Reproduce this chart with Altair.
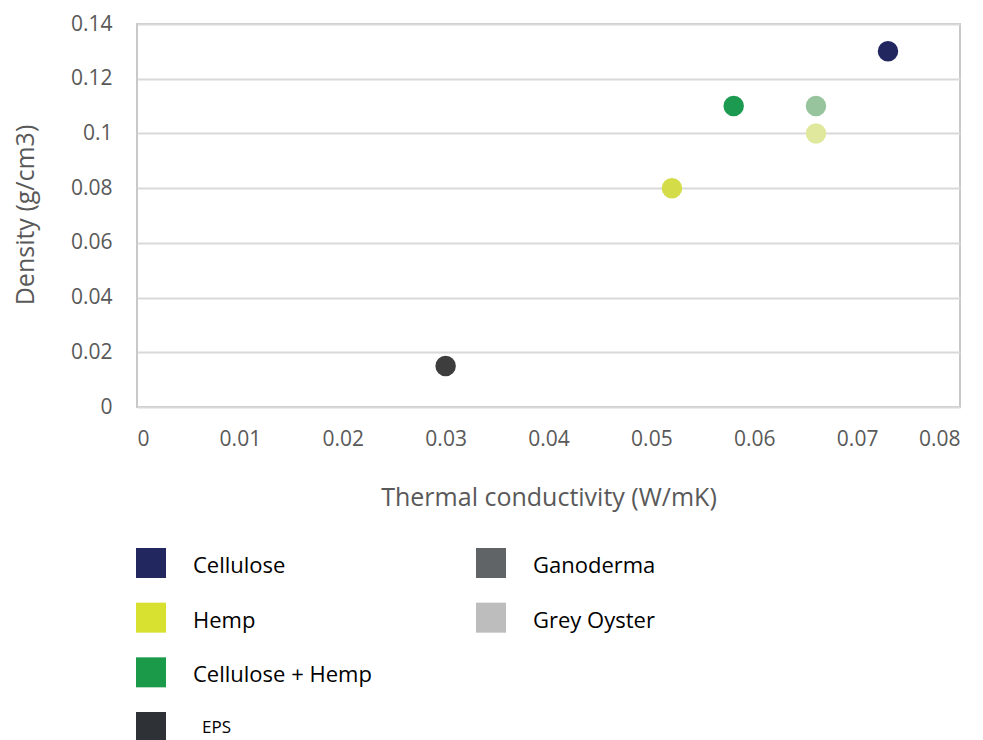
import altair as alt
import pandas as pd

# Scatter data
materials = ["Cellulose", "Hemp", "Cellulose + Hemp", "EPS", "Ganoderma", "Grey Oyster"]
conductivity = [0.073, 0.052, 0.058, 0.030, 0.066, 0.066]
density = [0.130, 0.080, 0.110, 0.015, 0.110, 0.100]
point_colors = ["#232760", "#d4dc47", "#1b9a50", "#3d3d3d", "#97c49c", "#e0e89e"]

# Legend data
legend_labels = ["Cellulose", "Hemp", "Cellulose + Hemp", "EPS", "Ganoderma", "Grey Oyster"]
legend_colors = ["#232760", "#d8e030", "#1b9a4a", "#2e3236", "#606467", "#bcbdbc"]
legend_rows_per_col = 4
small_label = "EPS"

x_ticks = [0, 0.01, 0.02, 0.03, 0.04, 0.05, 0.06, 0.07, 0.08]
y_ticks = [0, 0.02, 0.04, 0.06, 0.08, 0.10, 0.12, 0.14]

W, H = 823, 383

df = pd.DataFrame({"material": materials, "k": conductivity, "rho": density})

points = alt.Chart(df).mark_circle(size=420, opacity=1).encode(
    x=alt.X("k:Q",
            scale=alt.Scale(domain=[0, 0.08], nice=False),
            axis=alt.Axis(values=x_ticks, format="~g", grid=False, ticks=False, tickSize=0,
                          domain=False, labelPadding=21,
                          title="Thermal conductivity (W/mK)",
                          titleX=W / 2, titleY=90, titleBaseline="middle", titleAlign="center")),
    y=alt.Y("rho:Q",
            scale=alt.Scale(domain=[0, 0.14], nice=False),
            axis=alt.Axis(values=y_ticks, format="~g", grid=True, ticks=False, tickSize=0,
                          domain=False, labelPadding=25,
                          title="Density (g/cm3)",
                          titleX=-112, titleY=H / 2 - 1, titleAngle=-90,
                          titleBaseline="middle", titleAlign="center")),
    color=alt.Color("material:N", scale=alt.Scale(domain=materials, range=point_colors), legend=None),
)

leg_df = pd.DataFrame({
    "label": legend_labels,
    "color": legend_colors,
    "col": [i // legend_rows_per_col for i in range(len(legend_labels))],
    "row": [i % legend_rows_per_col for i in range(len(legend_labels))],
})

leg_base = alt.Chart(leg_df).encode(
    x=alt.X("col:Q", scale=alt.Scale(domain=[0, 1], range=[14, 354], nice=False, zero=False), axis=None),
    y=alt.Y("row:Q", scale=alt.Scale(domain=[0, 3], range=[539, 703], nice=False, zero=False), axis=None),
)
squares = leg_base.mark_square(size=900, opacity=1).encode(
    color=alt.Color("color:N", scale=None, legend=None)
)
texts = leg_base.transform_filter(
    alt.datum.label != small_label
).mark_text(align="left", baseline="middle", dx=42, dy=3, fontSize=22,
            font="Open Sans", color="#000000").encode(text="label:N")
texts_small = leg_base.transform_filter(
    alt.datum.label == small_label
).mark_text(align="left", baseline="middle", dx=51, dy=1, fontSize=17,
            font="Open Sans", color="#000000").encode(text="label:N")
legend = alt.layer(squares, texts, texts_small)

chart = alt.layer(points, legend).resolve_scale(
    x="independent", y="independent", color="independent"
).properties(
    width=W, height=H,
    autosize=alt.AutoSizeParams(type="none"),
    padding={"left": 129, "top": 16, "right": 15, "bottom": 335},
).configure_view(
    stroke="#c8c8c8", strokeWidth=2
).configure_axis(
    labelFont="Open Sans", labelFontSize=21, labelColor="#595959",
    titleFont="Open Sans", titleFontSize=25, titleColor="#595959", titleFontWeight="normal",
    gridColor="#d9d9d9", gridWidth=2,
)

chart.save("out.html", embed_options={"renderer": "svg", "actions": False})
